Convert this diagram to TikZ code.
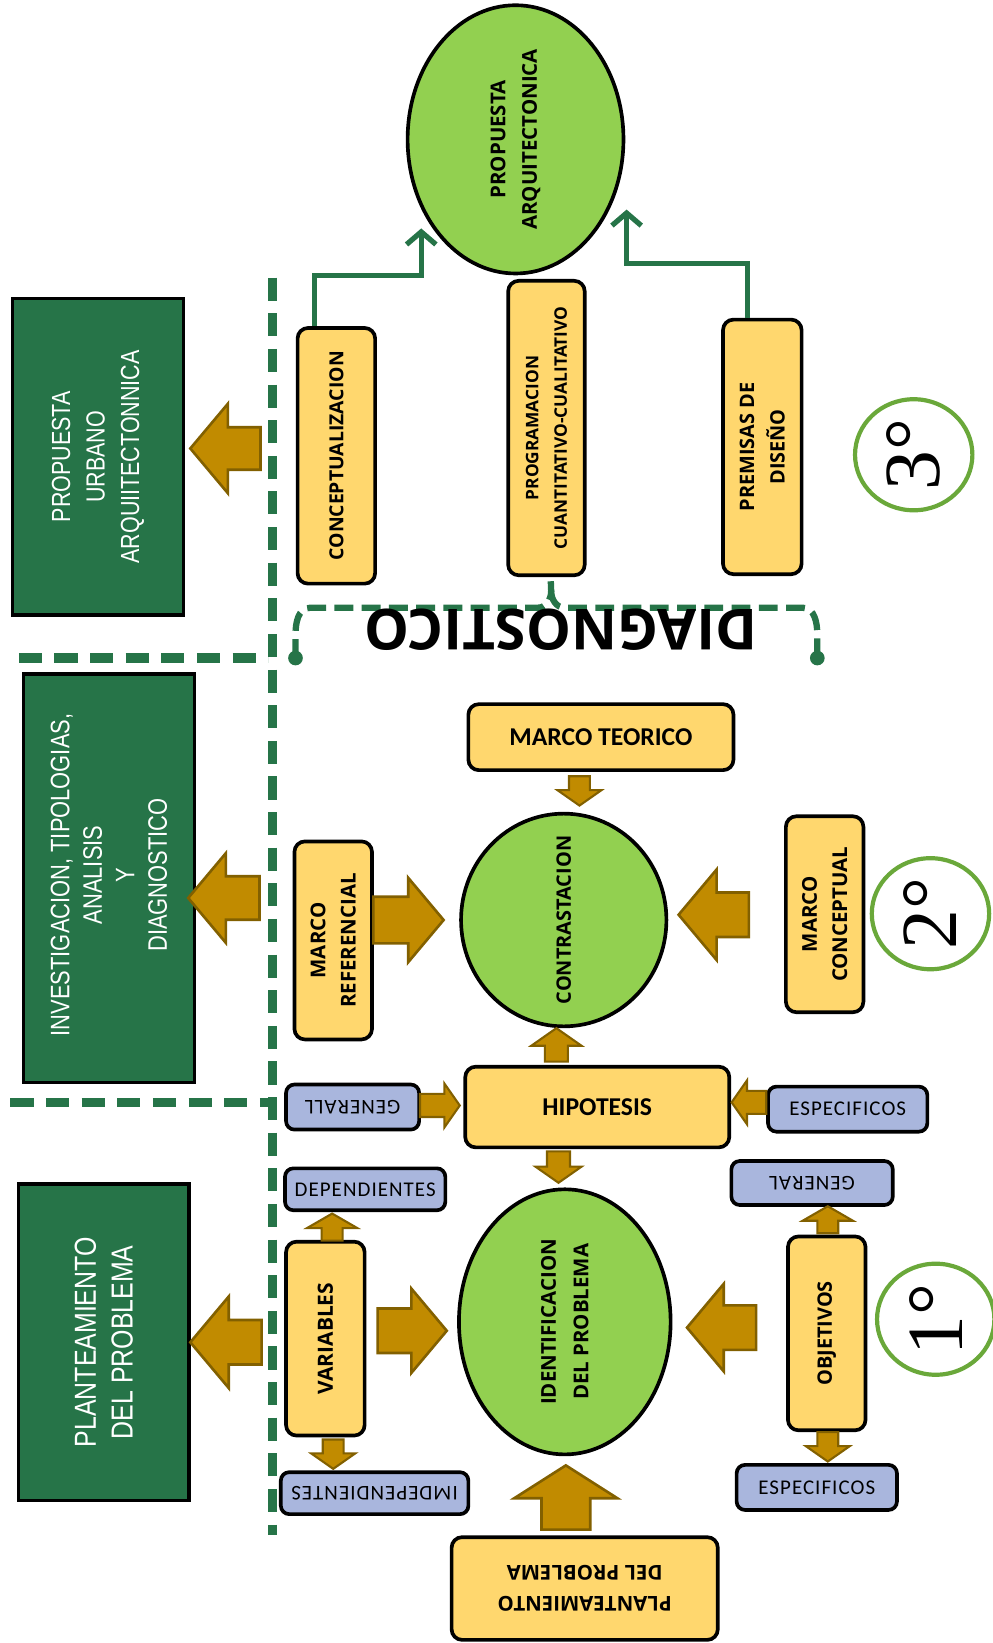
\documentclass[tikz,border=0pt]{standalone}
\usepackage{fontspec}
\setmainfont{Open Sans}
\newfontfamily\calfont{Carlito}
\newfontfamily\calspaced{Carlito}[LetterSpace=5]
\newfontfamily\narrowfont{Liberation Sans}[FakeStretch=0.82]
\newfontfamily\numfont{Liberation Serif}
\usetikzlibrary{shapes.geometric, shapes.arrows, arrows.meta, positioning}

\definecolor{boxyellow}{RGB}{255,215,110}
\definecolor{boxblue}{RGB}{169,182,221}
\definecolor{ovalgreen}{RGB}{146,208,80}
\definecolor{darkgreen}{RGB}{38,116,72}
\definecolor{ringgreen}{RGB}{106,168,58}
\definecolor{arrowfill}{RGB}{193,139,0}
\definecolor{arrowedge}{RGB}{130,96,0}

\tikzset{
  ybox/.style={draw, fill=boxyellow, line width=3.5pt, rounded corners=10pt, inner sep=0pt},
  bbox/.style={draw, fill=boxblue, line width=3.5pt, rounded corners=8pt, inner sep=0pt},
  gbox/.style={draw, fill=darkgreen, line width=3.5pt, inner sep=0pt},
  oval/.style={ellipse, draw, fill=ovalgreen, line width=3.5pt, inner sep=0pt},
  ring/.style={ellipse, draw=ringgreen, line width=4pt, inner sep=0pt,
    minimum width=112, minimum height=106},
  vtxt/.style={rotate=90, align=center, font=\bfseries\fontsize{19}{29}\selectfont},
  htxt/.style={align=center, font=\calfont\bfseries\fontsize{24.5}{28}\selectfont},
  btxt/.style={font=\calspaced\fontsize{20}{22}\selectfont},
  gtxt/.style={rotate=90, align=center, text=white},
  numtxt/.style={rotate=90, font=\numfont\fontsize{76}{76}\selectfont},
  blk/.style n args={3}{single arrow, draw=arrowedge, fill=arrowfill, line width=2.5pt,
    inner sep=#3, minimum height=#1, single arrow head extend=#2,
    single arrow tip angle=100},
  flow/.style={draw=darkgreen, line width=5pt, -{Straight Barb[length=12pt,width=28pt]}},
  divider/.style={darkgreen, line width=9pt, dash pattern=on 22pt off 12pt},
  diagbrace/.style={darkgreen, line width=6pt, dash pattern=on 18pt off 8pt},
}

\begin{document}
\begin{tikzpicture}[x=1pt, y=-1pt]
  \useasboundingbox (0,0) rectangle (947,1568);

  % separators
  \draw[divider] (260,265) -- (260,1465);
  \draw[divider] (18,628) -- (256,628);
  \draw[divider] (10,1052) -- (256,1052);

  % left column
  \node[gbox, minimum width=163, minimum height=302,
    label={[gtxt, font=\narrowfont\fontsize{25}{33}\selectfont]center:{PROPUESTA\\URBANO\\ARQUIITECTONNICA}}] (urb) at (93.5,436) {};
  \node[gbox, minimum width=163, minimum height=390,
    label={[gtxt, font=\narrowfont\fontsize{25.5}{31}\selectfont, xshift=3pt]center:{INVESTIGACION, TIPOLOGIAS,\\ANALISIS\\Y\\DIAGNOSTICO}}] (inv) at (104,838) {};
  \node[gbox, minimum width=163, minimum height=302,
    label={[gtxt, font=\narrowfont\fontsize{29}{35}\selectfont]center:{PLANTEAMIENTO\\DEL PROBLEMA}}] (plan) at (99,1281) {};
  \node[blk={67}{22.5}{19}, shape border rotate=180, anchor=tip] (arrUrb) at (180,428) {};
  \node[blk={68}{22}{19.5}, shape border rotate=180, anchor=tip] (arrInv) at (178,857) {};
  \node[blk={68}{22.5}{20}, shape border rotate=180, anchor=tip] (arrPlan) at (180,1281) {};

  % 3rd stage
  \node[oval, minimum width=206, minimum height=256,
    label={[vtxt, font=\bfseries\fontsize{19.5}{30}\selectfont]center:{PROPUESTA\\ARQUITECTONICA}}] (prop) at (492,133) {};
  \node[ybox, minimum width=74, minimum height=244, label={[vtxt, font=\bfseries\fontsize{18.5}{29}\selectfont]center:CONCEPTUALIZACION}] (conc) at (321,435) {};
  \node[ybox, minimum width=73, minimum height=281,
    label={[vtxt, font=\bfseries\fontsize{16.5}{27}\selectfont]center:{PROGRAMACION\\CUANTITATIVO-CUALITATIVO}}] (prog) at (521.5,408.5) {};
  \node[ybox, minimum width=75, minimum height=243, label={[vtxt]center:{PREMISAS DE\\DISEÑO}}] (prem) at (727.5,426.5) {};
  \node[ring, label={[numtxt]center:3°}] (deg3) at (872,434) {};
  \coordinate (tipL) at (402,218);
  \coordinate (tipR) at (598,200);
  \draw[flow] ([xshift=-21pt]conc.north) -- ++(0,-48) -| (tipL);
  \draw[flow] ([xshift=-14pt]prem.north) -- ++(0,-52) -| (tipR);

  % diagnostico brace
  \coordinate (dotL) at (282,628);
  \coordinate (dotR) at (780,628);
  \draw[diagbrace] (dotL) -- (282,606) to[out=90,in=180] (296,580) -- (513,580)
    to[out=0,in=-90] (526,564) -- ([xshift=4pt]prog.south);
  \draw[diagbrace] (526,564) to[out=-90,in=180] (539,580) -- (766,580)
    to[out=0,in=90] (780,606) -- (dotR);
  \fill[darkgreen] (dotL) circle (7pt) (dotR) circle (7pt);
  \node[rotate=180, font=\bfseries\fontsize{54}{58}\selectfont] (diag) at (535,601) {DIAGNOSTICO};

  % 2nd stage
  \node[ybox, minimum width=253, minimum height=63, label={[htxt]center:MARCO TEORICO}] (teo) at (573.5,703.5) {};
  \node[oval, minimum width=196, minimum height=203, label={[vtxt]center:CONTRASTACION}] (contr) at (538,878) {};
  \node[ybox, minimum width=74, minimum height=189, label={[vtxt, font=\bfseries\fontsize{19.5}{29}\selectfont]center:{MARCO\\REFERENCIAL}}] (ref) at (318,897.5) {};
  \node[ybox, minimum width=74, minimum height=187, label={[vtxt, font=\bfseries\fontsize{19.5}{29}\selectfont]center:{MARCO\\CONCEPTUAL}}] (concp) at (787,872.5) {};
  \node[ring, label={[numtxt]center:2°}] (deg2) at (888,872) {};
  \node[blk={28}{11}{9}, shape border rotate=270, anchor=tip, single arrow tip angle=110, line width=2pt] (arrTeo) at (553,770) {};
  \node[blk={67}{18}{21}, anchor=tip] (arrRef) at (425,878) {};
  \node[blk={67}{22}{20}, shape border rotate=180, anchor=tip] (arrCon) at (646,873) {};

  % hipotesis
  \node[ybox, minimum width=252, minimum height=77, label={[htxt]center:HIPOTESIS}] (hip) at (570,1056.5) {};
  \node[bbox, minimum width=127, minimum height=43, label={[btxt, rotate=180]center:GENERALL}] (genL) at (336.5,1056.5) {};
  \node[bbox, minimum width=152, minimum height=43, label={[btxt]center:ESPECIFICOS}] (espH) at (809,1058.5) {};
  \node[blk={32}{13}{10}, shape border rotate=90, anchor=tip, single arrow tip angle=110, line width=2pt] (arrHipU) at (531,980) {};
  \node[blk={38}{10}{10}, anchor=tip, single arrow tip angle=110, line width=2pt] (arrGen) at (440,1055) {};
  \node[blk={33}{10}{10}, shape border rotate=180, anchor=tip, single arrow tip angle=110, line width=2pt] (arrEsp) at (697,1052) {};
  \node[blk={30}{11}{10}, shape border rotate=270, anchor=tip, single arrow tip angle=110, line width=2pt] (arrHipD) at (533,1130) {};

  % 1st stage
  \node[oval, minimum width=202, minimum height=253,
    label={[vtxt, font=\bfseries\fontsize{19.5}{31}\selectfont]center:{IDENTIFICACION\\DEL PROBLEMA}}] (ident) at (539,1261.5) {};
  \node[ybox, minimum width=254, minimum height=98,
    label={[vtxt, rotate=90, font=\bfseries\fontsize{19.5}{30}\selectfont]center:{PLANTEAMIENTO\\DEL PROBLEMA}}] (plantB) at (558,1516) {};
  \node[ybox, minimum width=75, minimum height=185, label={[vtxt, font=\bfseries\fontsize{20}{29}\selectfont]center:VARIABLES}] (var) at (310.5,1277.5) {};
  \node[bbox, minimum width=153, minimum height=40, label={[btxt]center:DEPENDIENTES}] (dep) at (348.5,1135) {};
  \node[bbox, minimum width=179, minimum height=40, label={[btxt, rotate=180]center:IMDEPENDIENTES}] (indep) at (357.5,1425) {};
  \node[ybox, minimum width=74, minimum height=185, label={[vtxt]center:OBJETIVOS}] (obj) at (789,1272.5) {};
  \node[bbox, minimum width=154, minimum height=42, label={[btxt, rotate=180]center:GENERAL}] (genR) at (775,1129) {};
  \node[bbox, minimum width=153, minimum height=43, label={[btxt]center:ESPECIFICOS}] (espR) at (779.5,1419.5) {};
  \node[ring, label={[numtxt]center:1°}] (deg1) at (893,1259) {};
  \node[blk={58}{26}{22}, shape border rotate=90, anchor=tip, single arrow tip angle=115] (arrPlB) at (540,1397) {};
  \node[blk={66}{19}{20}, anchor=tip] (arrVar) at (428,1270) {};
  \node[blk={66}{20.5}{20}, shape border rotate=180, anchor=tip] (arrObj) at (654,1267) {};
  \node[blk={23}{14}{9}, shape border rotate=90, anchor=tip, single arrow tip angle=120, line width=2pt] (arrDep) at (317,1157) {};
  \node[blk={28}{11}{9}, shape border rotate=270, anchor=tip, single arrow tip angle=110, line width=2pt] (arrInd) at (318,1403) {};
  \node[blk={25}{14}{9}, shape border rotate=90, anchor=tip, single arrow tip angle=120, line width=2pt] (arrGenR) at (790,1150) {};
  \node[blk={28}{11}{9}, shape border rotate=270, anchor=tip, single arrow tip angle=110, line width=2pt] (arrEspR) at (790,1396) {};
\end{tikzpicture}
\end{document}
